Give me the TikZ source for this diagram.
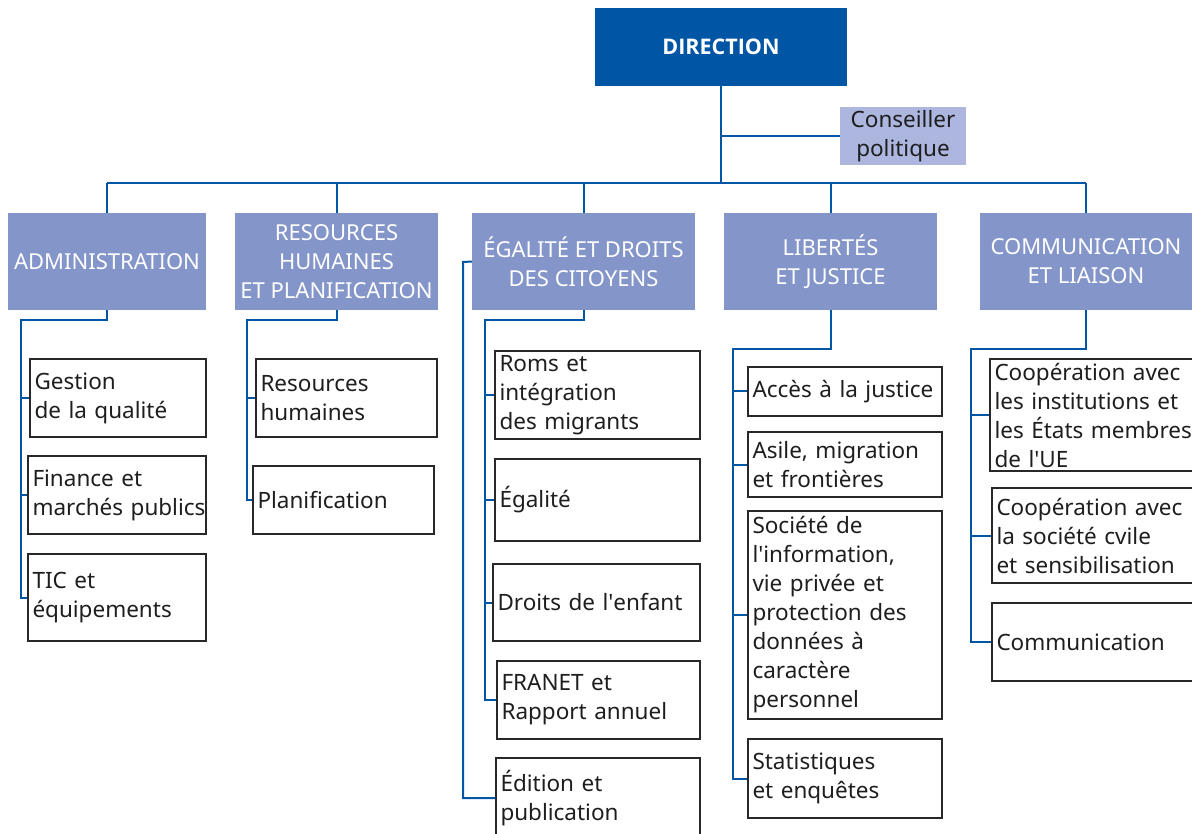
\documentclass[tikz,border=0pt]{standalone}
\usepackage{fontspec}
\setmainfont{Noto Sans}
\newfontfamily\dirfont{Open Sans}
\usetikzlibrary{calc}
\definecolor{dblue}{RGB}{0,85,165}
\definecolor{hblue}{RGB}{132,149,201}
\definecolor{lblue}{RGB}{172,182,222}
\definecolor{bord}{RGB}{40,40,40}
\definecolor{txt}{RGB}{30,30,30}
\newcommand\apos{\textquotesingle}
\newcommand\subbox[6]{%
  \pgfmathsetmacro\tw{#3-#2-9}%
  \node[subbox, text width=\tw pt, minimum height={#5-#4}] (#1) at ({(#2+#3)/2},{(#4+#5)/2}) {#6};}
\newcommand\headbox[6]{%
  \node[headbox, minimum width={#3-#2}, minimum height={#5-#4}] (#1) at ({(#2+#3)/2},{(#4+#5)/2}) {#6};}
\begin{document}
\begin{tikzpicture}[x=1pt,y=-1pt,
  subbox/.style={draw=bord, line width=1.4pt, fill=white, inner xsep=4.5pt, inner ysep=0pt, align=left, text=txt,
    font=\fontsize{22.5}{29}\selectfont},
  headbox/.style={fill=hblue, inner sep=0pt, align=center, text=white, font=\fontsize{22}{29}\selectfont},
  conn/.style={draw=dblue, line width=2pt}]
\useasboundingbox (0,0) rectangle (1192,834);
% top
\node[fill=dblue, minimum width=252, minimum height=78, inner sep=0pt, text=white, font=\dirfont\bfseries\fontsize{21.5}{24}\selectfont] (dir) at (721,47) {DIRECTION};
\node[fill=lblue, minimum width=126, minimum height=58, inner sep=0pt, align=center, text=txt, font=\fontsize{22.5}{29}\selectfont] (cons) at (903,136) {Conseiller\\politique};
% heads
\headbox{adm}{8}{206}{213}{310}{ADMINISTRATION}
\headbox{rh}{235}{438}{213}{310}{RESOURCES\\HUMAINES\\ET PLANIFICATION}
\headbox{ega}{472}{695}{213}{310}{ÉGALITÉ ET DROITS\\DES CITOYENS}
\headbox{lib}{724}{937}{213}{310}{LIBERTÉS\\ET JUSTICE}
\headbox{com}{980}{1192}{213}{310}{COMMUNICATION\\ET LIAISON}
% subboxes
\subbox{gest}{30}{206}{359}{437}{Gestion\\de la qualité}
\subbox{fin}{28}{206}{456}{534}{Finance et\\marchés~publics}
\subbox{tic}{28}{206}{554}{641}{TIC et\\équipements}
\subbox{rhs}{256}{437}{359}{437}{Resources\\humaines}
\subbox{plan}{253}{434}{466}{534}{Planification}
\subbox{roms}{495}{700}{351}{439}{Roms et\\intégration\\des migrants}
\subbox{egal}{495}{700}{459}{541}{Égalité}
\subbox{droi}{493}{700}{564}{641}{Droits~de~l\apos enfant}
\subbox{fran}{497}{700}{661}{739}{FRANET et\\Rapport annuel}
\subbox{edit}{496}{700}{758}{838}{Édition et\\publication}
\subbox{acc}{748}{942}{367}{416}{Accès~à~la~justice}
\subbox{asi}{748}{942}{432}{497}{Asile, migration\\et frontières}
\subbox{soc}{748}{942}{511}{719}{Société de\\l\apos information,\\vie privée et\\protection~des\\données à\\caractère\\personnel}
\subbox{stat}{748}{942}{739}{818}{Statistiques\\et enquêtes}
\subbox{coopa}{990}{1197}{359}{471}{Coopération~avec\\les~institutions~et\\les~États~membres\\de l\apos UE}
\subbox{coopb}{992}{1197}{488}{583}{Coopération~avec\\la~société~cvile\\et~sensibilisation}
\subbox{commu}{992}{1197}{603}{681}{Communication}
% trunk coordinates
\coordinate (bus) at (0,183);
\coordinate (admt) at (21,320);
\coordinate (rht) at (247,320);
\coordinate (egat) at (485,320);
\coordinate (egao) at (463,262);
\coordinate (libt) at (733,349);
\coordinate (comt) at (971,349);
% connectors
\draw[conn] (dir.south) -- (dir.south |- bus);
\draw[conn] (dir.south |- cons.west) -- (cons.west);
\draw[conn] (adm.north |- bus) -- (com.north |- bus);
\foreach \n in {adm,rh,ega,lib,com} \draw[conn] (\n.north) -- (\n.north |- bus);
\draw[conn] (adm.south) |- (admt) |- (tic.west);
\draw[conn] (admt |- gest.west) -- (gest.west);
\draw[conn] (admt |- fin.west) -- (fin.west);
\draw[conn] (rh.south) |- (rht) |- (plan.west);
\draw[conn] (rht |- rhs.west) -- (rhs.west);
\draw[conn] (ega.south) |- (egat) |- (fran.west);
\draw[conn] (egat |- roms.west) -- (roms.west);
\draw[conn] (egat |- egal.west) -- (egal.west);
\draw[conn] (egat |- droi.west) -- (droi.west);
\draw[conn] (ega.west) -- (egao) |- (edit.west);
\draw[conn] (lib.south) |- (libt) |- (stat.west);
\draw[conn] (libt |- acc.west) -- (acc.west);
\draw[conn] (libt |- asi.west) -- (asi.west);
\draw[conn] (libt |- soc.west) -- (soc.west);
\draw[conn] (com.south) |- (comt) |- (commu.west);
\draw[conn] (comt |- coopa.west) -- (coopa.west);
\draw[conn] (comt |- coopb.west) -- (coopb.west);
\end{tikzpicture}
\end{document}
